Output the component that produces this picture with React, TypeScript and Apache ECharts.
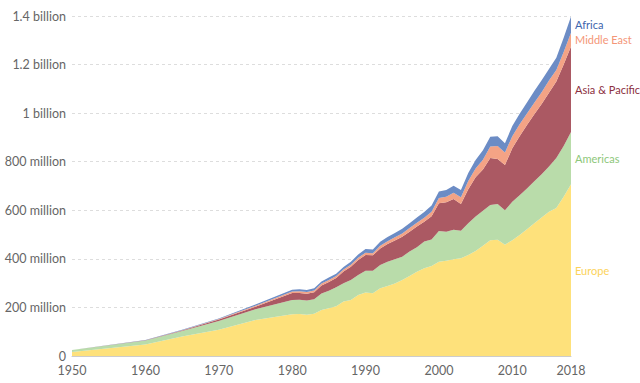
import React, { useEffect, useRef } from "react";
import * as echarts from "echarts";

const years = [
  1950, 1960, 1965, 1970, 1975,
  1980, 1981, 1982, 1983, 1984, 1985, 1986, 1987, 1988, 1989,
  1990, 1991, 1992, 1993, 1994, 1995, 1996, 1997, 1998, 1999,
  2000, 2001, 2002, 2003, 2004, 2005, 2006, 2007, 2008, 2009,
  2010, 2011, 2012, 2013, 2014, 2015, 2016, 2017, 2018,
];

// millions of arrivals
const europe = [
  16.8, 47, 80, 108, 148,
  172, 173, 170, 174, 189, 197, 205, 224, 231, 251,
  261, 258, 279, 288, 299, 313, 329, 347, 361, 371,
  388, 392, 398, 403, 416, 432, 454, 477, 479, 458,
  477, 498, 522, 547, 570, 594, 609, 656, 707,
];
const americas = [
  7.5, 16.7, 23, 36, 45,
  59, 59, 59, 60, 68, 72, 78, 76, 82, 83,
  90, 93, 96, 100, 99, 96, 101, 101, 110, 109,
  127, 120, 122, 113, 131, 142, 144, 145, 147, 142,
  158, 164, 168, 173, 178, 186, 206, 209, 215,
];
const asiaPacific = [
  0.2, 0.9, 2.1, 6.2, 10,
  28, 27, 27, 28, 33, 36, 38, 48, 54, 61,
  65, 64, 68, 73, 78, 82, 82, 85, 82, 95,
  114, 121, 126, 110, 140, 162, 170, 193, 185, 186,
  220, 243, 261, 275, 290, 304, 315, 335, 352,
];
const middleEast = [
  0.2, 0.6, 1.3, 1.9, 4,
  7.1, 7.5, 7.5, 8, 8.2, 8.1, 8, 8.5, 9, 9.5,
  9.6, 8.5, 10.5, 11, 12.5, 13.7, 15, 15.5, 16, 19,
  22, 23, 26, 28, 34, 36, 40, 48, 54, 52,
  50, 49, 48, 48, 48, 50, 48, 52, 57,
];
const africa = [
  0.5, 0.8, 1.4, 2.4, 5,
  7.2, 8, 8, 8.5, 9, 9.7, 9.5, 10, 12, 13.5,
  14.8, 15, 17, 17.5, 18, 18.8, 20, 22, 24, 25.5,
  26.2, 28, 29, 30, 33, 35, 39, 40, 40, 38,
  42, 43, 45, 48, 49, 48, 50, 58, 67,
];

const seriesNames = ["Europe", "Americas", "Asia & Pacific", "Middle East", "Africa"];
const seriesData = [europe, americas, asiaPacific, middleEast, africa];
const fillColors = ["#fee17b", "#b9dcaa", "#ab5963", "#f4a385", "#6c8cc5"];
const labelColors = ["#fcd35b", "#8dc77a", "#8b2f40", "#f49677", "#3e65ad"];

const FONT = "Lato, 'Noto Sans', sans-serif";

function yFmt(v: number): string {
  if (v === 0) return "0";
  if (v >= 1000) return `${v / 1000} billion`;
  return `${v} million`;
}

export default function App() {
  const ref = useRef<HTMLDivElement>(null);
  useEffect(() => {
    document.body.style.margin = "0";
    if (!ref.current) return;
    const chart = echarts.init(ref.current, null, { renderer: "svg" });
    const option: any = {
      animation: false,
      backgroundColor: "#ffffff",
      grid: { left: 72, right: 69, top: 16, bottom: 27, containLabel: false },
      xAxis: {
        type: "value",
        min: 1950,
        max: 2018,
        interval: 10,
        axisLine: { show: true, lineStyle: { color: "#cccccc" } },
        axisTick: { show: false },
        splitLine: { show: false },
        axisLabel: {
          color: "#666666",
          fontFamily: FONT,
          fontSize: 12.5,
          margin: 8,
          formatter: (v: number) => String(v),
        },
      },
      yAxis: {
        type: "value",
        min: 0,
        max: 1400,
        interval: 200,
        axisLine: { show: false },
        axisTick: { show: false },
        splitLine: {
          show: true,
          lineStyle: { color: "#dddddd", type: [3, 3], width: 1 },
        },
        axisLabel: {
          color: "#666666",
          fontFamily: FONT,
          fontSize: 12.5,
          margin: 6,
          formatter: yFmt,
        },
      },
      series: seriesNames.map((name, i) => ({
        name,
        type: "line",
        stack: "total",
        symbol: "none",
        encode: { x: 1, y: 0 },
        lineStyle: { width: 0 },
        areaStyle: { color: fillColors[i], opacity: 1 },
        data: years.map((y, j) => [seriesData[i][j], y]),
      })),
    };
    chart.setOption(option);

    // Labels at the middle of each layer at the last year
    const last = years.length - 1;
    let cum = 0;
    const graphics: any[] = [];
    seriesNames.forEach((name, i) => {
      const v = seriesData[i][last];
      const mid = cum + v / 2;
      cum += v;
      const p = chart.convertToPixel({ gridIndex: 0 }, [years[last], mid]) as number[];
      graphics.push({
        type: "text",
        x: p[0] + 4,
        y: p[1],
        style: {
          text: name,
          fill: labelColors[i],
          font: `11px ${FONT}`,
          verticalAlign: "middle",
        },
      });
    });
    chart.setOption({ graphic: graphics });

    return () => chart.dispose();
  }, []);
  return <div ref={ref} style={{ width: 640, height: 383 }} />;
}
